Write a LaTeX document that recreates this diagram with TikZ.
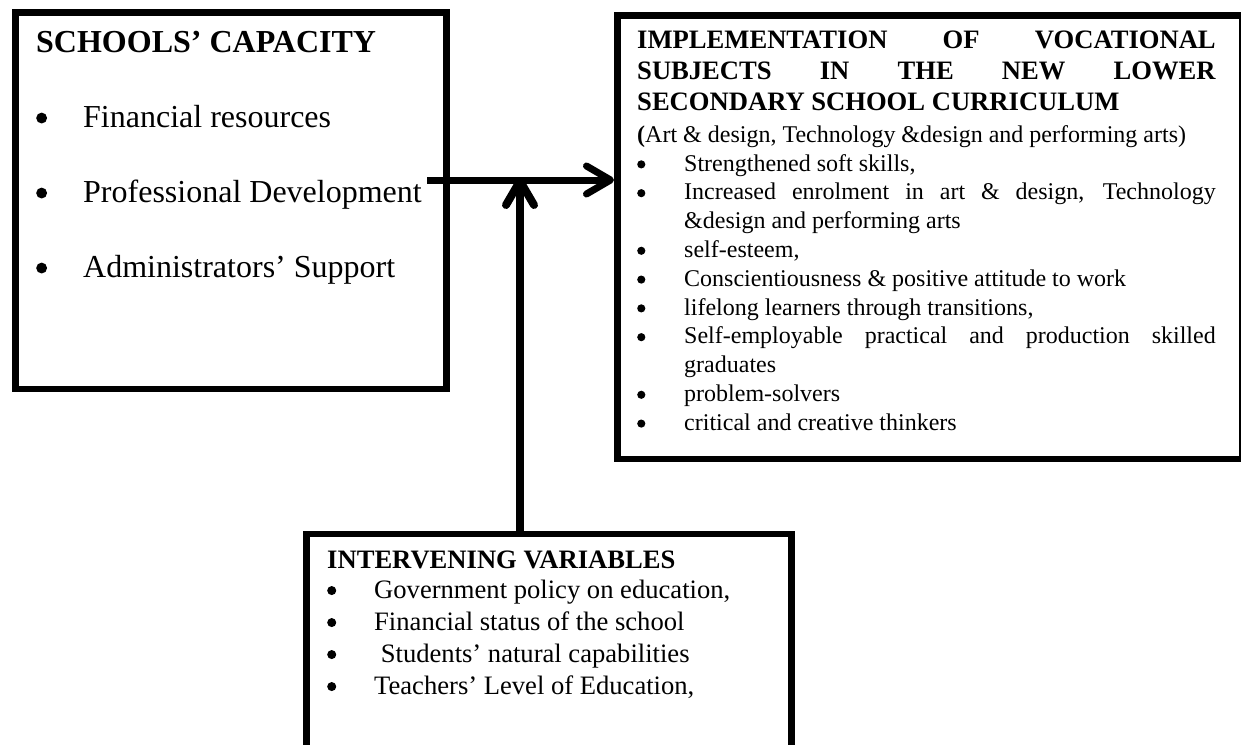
\documentclass[tikz,border=0pt]{standalone}
\usepackage{fontspec}
\setmainfont{Liberation Serif}[BoldFont={Liberation Serif Bold}]
\usetikzlibrary{arrows.meta}
\usetikzlibrary{positioning}

\tikzset{
  box/.style={draw,line width=6.5pt,inner sep=0pt,anchor=north west},
  txt/.style={anchor=base west,inner sep=0pt},
  link/.style={line width=7pt,-{Straight Barb[length=24pt,width=28pt,round]}}
}
% list lines: round bullet in a 47pt slot, then the text
\newcommand\blt{\tikz[baseline=0pt]\path[fill=black,draw=none,line width=0pt] (0.19em,0.28em) circle (0.17em);}
\newcommand\bul[1]{\hbox{\makebox[47pt][l]{\blt}#1}}
\newcommand\bulj[1]{\hbox to\hsize{\makebox[47pt][l]{\blt}#1}}
\newcommand\cont[1]{\hbox{\kern47pt #1}}

\begin{document}
\begin{tikzpicture}[x=1pt,y=-1pt]
      \useasboundingbox (0,0) rectangle (1241,744);
      \clip (0,0) rectangle (1241,744);

      % the three boxes
      \node[box,minimum width=431.3pt,minimum height=376.2pt] (cap) at (12,9.3) {};
      \node[box,minimum width=624.5pt,minimum height=443.5pt] (out) at (614,12) {};
      \node[box,minimum width=485.3pt,minimum height=240pt] (int) at (303,530.5) {};

      \node[txt] (capT) at (36,52) {\vtop{\fontsize{32}{75}\selectfont
        \hbox{\bfseries SCHOOLS’ CAPACITY}
        \bul{Financial resources}
        \bul{Professional Development}
        \bul{Administrators’ Support}}};

      \node[txt] (outT) at (637,48) {\vtop{\hsize=578.5pt
        \fontsize{26.6}{31}\selectfont\bfseries
        \hbox to\hsize{IMPLEMENTATION\hfill OF\hfill VOCATIONAL}
        \hbox to\hsize{SUBJECTS\hfill IN\hfill THE\hfill NEW\hfill LOWER}
        \hbox{SECONDARY SCHOOL CURRICULUM}
        \fontsize{24}{28.8}\selectfont\mdseries\vskip3.5pt
        \hbox{\textbf{(}Art \& design, Technology \&design and performing arts)}
        \bul{Strengthened soft skills,}
        \bulj{Increased enrolment in art \& design, Technology}
        \cont{\&design and performing arts}
        \bul{self-esteem,}
        \bul{Conscientiousness \& positive attitude to work}
        \bul{lifelong learners through transitions,}
        \bulj{Self-employable practical and production skilled}
        \cont{graduates}
        \bul{problem-solvers}
        \bul{critical and creative thinkers}}};

      \node[txt] (intT) at (327,568) {\vtop{\fontsize{26.6}{32}\selectfont
        \hbox{\bfseries INTERVENING VARIABLES}
        \vskip-2pt
        \bul{Government policy on education,}
        \bul{Financial status of the school}
        \bul{\ Students’ natural capabilities}
        \bul{Teachers’ Level of Education,}}};

      % arrows
      \coordinate (src) at (427,180);
      \coordinate (jn) at (520,177);
      \draw[link] (src) -- (src -| out.west);
      \draw[link,line width=8pt] (jn |- int.north) -- (jn);
\end{tikzpicture}
\end{document}
